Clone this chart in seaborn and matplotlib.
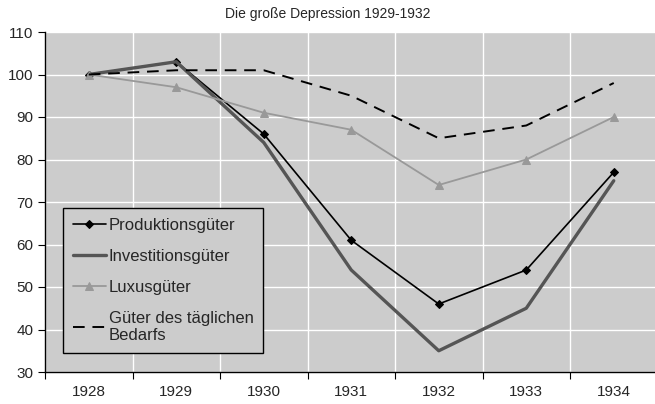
import matplotlib
matplotlib.use("Agg")
import matplotlib.pyplot as plt
import seaborn as sns
import numpy as np

# data
years = ["1928", "1929", "1930", "1931", "1932", "1933", "1934"]
produktion = [100, 103, 86, 61, 46, 54, 77]
investition = [100, 103, 84, 54, 35, 45, 75]
luxus = [100, 97, 91, 87, 74, 80, 90]
bedarf = [100, 101, 101, 95, 85, 88, 98]

sns.set_style("whitegrid", {"axes.facecolor": "#cccccc", "grid.color": "white",
                            "axes.edgecolor": "black"})
plt.rcParams["font.family"] = ["Liberation Sans", "DejaVu Sans"]

fig = plt.figure(figsize=(6.55, 4.04), dpi=100)
ax = fig.add_axes([45 / 655, 32 / 404, 612.5 / 655, 340 / 404])
pos = np.arange(len(years))

sns.lineplot(x=pos, y=produktion, ax=ax, color="black", lw=1.2, marker="D",
             markersize=4, markeredgecolor="black", label="Produktionsgüter")
sns.lineplot(x=pos, y=investition, ax=ax, color="#555555", lw=2.4,
             label="Investitionsgüter")
sns.lineplot(x=pos, y=luxus, ax=ax, color="#999999", lw=1.3, marker="^",
             markersize=6, markeredgecolor="#999999", label="Luxusgüter")
sns.lineplot(x=pos, y=bedarf, ax=ax, color="black", lw=1.4,
             label="Güter des täglichen\nBedarfs")
ax.lines[-1].set_dashes([6, 4])

ax.set_xlim(-0.5, 6.5)
ax.set_ylim(30, 110)
ax.set_yticks(range(30, 111, 10))
ax.set_xticks(np.arange(-0.5, 7, 1))
ax.set_xticklabels([])
ax.set_xticks(pos, minor=True)
ax.set_xticklabels(years, minor=True)
ax.tick_params(axis="x", which="major", length=5, color="black", direction="out", bottom=True)
ax.tick_params(axis="x", which="minor", length=0, pad=9, labelsize=11)
ax.tick_params(axis="y", length=5, color="black", direction="out", left=True, labelsize=11)
ax.grid(True, which="major", color="white", lw=1)
ax.grid(False, which="minor")
for s in ["top", "right"]:
    ax.spines[s].set_visible(False)
for s in ["left", "bottom"]:
    ax.spines[s].set_color("black")
    ax.spines[s].set_linewidth(1)

leg = ax.legend(loc="lower left", bbox_to_anchor=(0.029, 0.056), fontsize=12,
                frameon=True, fancybox=False, framealpha=1, edgecolor="black",
                handlelength=2.0, handletextpad=0.15, labelspacing=0.95,
                borderpad=0.6, borderaxespad=0)
leg.get_frame().set_linewidth(1)

fig.text(0.5, 1 - 14 / 404, "Die große Depression 1929-1932",
         ha="center", va="center", fontsize=10)

fig.savefig("out.png", dpi=100)
